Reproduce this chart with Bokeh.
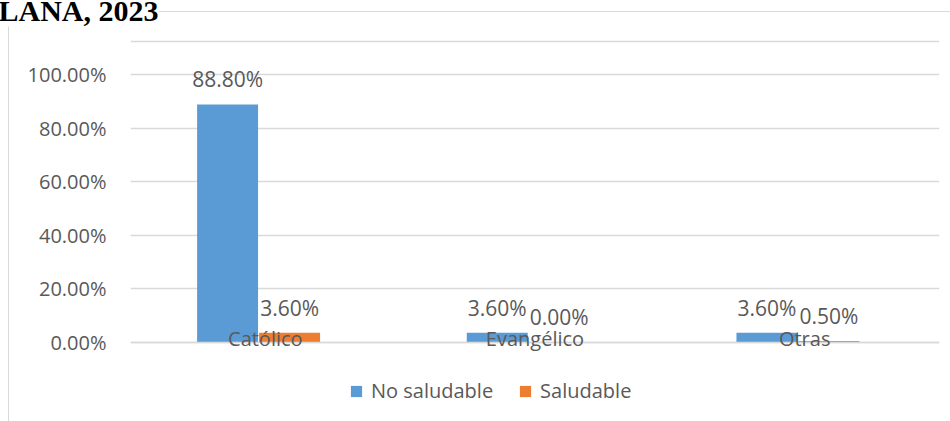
from bokeh.plotting import figure
from bokeh.models import (ColumnDataSource, FactorRange, FixedTicker, Legend, LegendItem,
                          InlineStyleSheet, Span, Range1d)
from bokeh.transform import dodge
from bokeh.core.properties import value
from bokeh.embed import file_html
from bokeh.resources import INLINE

# ---- data ----
categories = ["Católico", "Evangélico", "Otras"]
no_saludable = [88.8, 3.6, 3.6]
saludable = [3.6, 0.0, 0.5]
series_names = ["No saludable", "Saludable"]
y_ticks = [0, 20, 40, 60, 80, 100]
title_text = "LANA, 2023"

BLUE = "#5B9BD5"
ORANGE = "#ED7D31"
GRID = "#D9D9D9"
TXT = "#595959"
FONT = "Open Sans"

source = ColumnDataSource(dict(
    cat=categories,
    ns=no_saludable,
    s=saludable,
    ns_lbl=[f"{v:.2f}%" for v in no_saludable],
    s_lbl=[f"{v:.2f}%" for v in saludable],
))

# frame spans the full height below the title; the value range is stretched so
# that 0 sits on the category line and the plot-area top line sits near 112 %
p = figure(x_range=FactorRange(*categories), y_range=Range1d(-29.5, 123.5),
           width=950, height=421, output_backend="svg", toolbar_location=None,
           min_border_left=130, min_border_right=11, min_border_top=11,
           min_border_bottom=0)
p.outline_line_color = None
p.background_fill_color = None
p.border_fill_color = None

# outer chart border drawn behind the canvas
p.stylesheets = [InlineStyleSheet(css="""
:host { position: relative; }
:host::before { content: ""; position: absolute; left: 8px; top: 11px; right: -2px; bottom: -2px;
  border-left: 1.5px solid #D9D9D9; border-top: 1.5px solid #D9D9D9; z-index: -1; }
""")]

# top line of the plot area
p.add_layout(Span(location=112.3, dimension="width", line_color=GRID, line_width=1.5))

b1 = p.vbar(x=dodge("cat", -0.14, range=p.x_range), top="ns", width=0.226,
            source=source, fill_color=BLUE, line_color=None)
b2 = p.vbar(x=dodge("cat", 0.09, range=p.x_range), top="s", width=0.226,
            source=source, fill_color=ORANGE, line_color=None)

p.text(x=dodge("cat", -0.14, range=p.x_range), y="ns", text="ns_lbl", source=source,
       text_align="center", text_baseline="middle", y_offset=-25,
       text_font=value(FONT), text_font_size="21px", text_color=TXT)
p.text(x=dodge("cat", 0.09, range=p.x_range), y="s", text="s_lbl", source=source,
       text_align="center", text_baseline="middle", y_offset=-25,
       text_font=value(FONT), text_font_size="21px", text_color=TXT)

# title (clipped caption from the document)
p.title.text = title_text
p.title.align = "left"
p.title.offset = -132
p.title.standoff = -30
p.title.vertical_align = "bottom"
p.title.text_font = "Liberation Serif"
p.title.text_font_style = "bold"
p.title.text_font_size = "30px"
p.title.text_color = "black"
p.title.background_fill_color = "white"

# axes
p.yaxis.ticker = FixedTicker(ticks=y_ticks)
p.yaxis.major_label_overrides = {t: f"{t:.2f}%" for t in y_ticks}
p.yaxis.axis_line_color = None
p.yaxis.major_tick_line_color = None
p.yaxis.minor_tick_line_color = None
p.yaxis.major_label_standoff = 18
p.yaxis.major_label_text_font = FONT
p.yaxis.major_label_text_font_size = "20px"
p.yaxis.major_label_text_color = TXT

p.xaxis.fixed_location = 0
p.xaxis.axis_line_color = GRID
p.xaxis.axis_line_width = 1.5
p.xaxis.major_tick_line_color = None
p.xaxis.minor_tick_line_color = None
p.xaxis.major_label_standoff = -23
p.xaxis.major_label_text_font = FONT
p.xaxis.major_label_text_font_size = "20px"
p.xaxis.major_label_text_color = TXT

p.xgrid.grid_line_color = None
p.ygrid.ticker = FixedTicker(ticks=y_ticks)
p.ygrid.grid_line_color = GRID
p.ygrid.grid_line_width = 1.5

# legend near the bottom
legend = Legend(items=[LegendItem(label=series_names[0], renderers=[b1]),
                       LegendItem(label=series_names[1], renderers=[b2])],
                orientation="horizontal", location=(219, 17),
                padding=0, margin=0, spacing=25, label_standoff=8,
                glyph_width=14, glyph_height=14,
                label_text_font=FONT, label_text_font_size="20px",
                label_text_color=TXT, border_line_color=None,
                background_fill_alpha=0)
p.add_layout(legend)

open("out.html", "w").write(file_html(p, INLINE))
